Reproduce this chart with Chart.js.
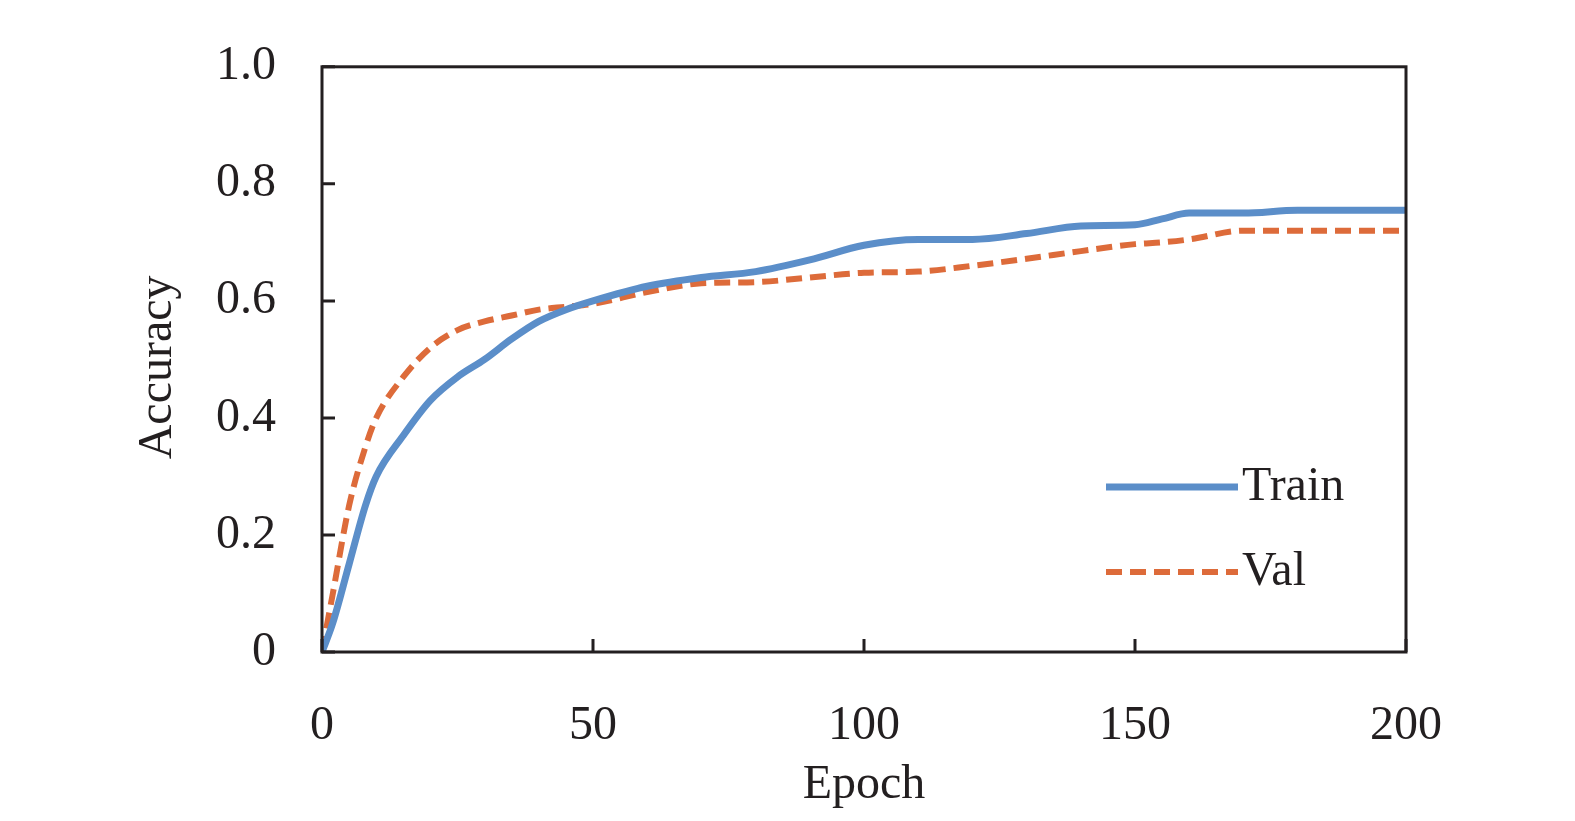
<!DOCTYPE html>
<html><head><meta charset="utf-8">
<script src="https://cdn.jsdelivr.net/npm/chart.js@4"></script>
<style>html,body{margin:0;padding:0;background:#fff}#w{width:1575px;height:821px}</style>
</head><body><div id="w"><canvas id="c"></canvas></div>
<script>
const epochs = [0,2,5,8,10,15,20,25,30,35,40,45,50,60,70,80,90,100,110,120,130,140,150,155,160,170,180,200];
const train  = [0,0.05,0.15,0.25,0.30,0.37,0.43,0.47,0.50,0.535,0.565,0.585,0.60,0.625,0.64,0.65,0.67,0.695,0.705,0.705,0.715,0.728,0.73,0.74,0.75,0.75,0.755,0.755];
const val    = [0,0.10,0.25,0.35,0.40,0.47,0.52,0.55,0.565,0.575,0.585,0.59,0.595,0.615,0.63,0.632,0.64,0.648,0.65,0.66,0.672,0.685,0.697,0.70,0.705,0.72,0.72,0.72];
const xTicks = [0,50,100,150,200];
const yTicks = [0,0.2,0.4,0.6,0.8,1.0];
const xTitle = 'Epoch', yTitle = 'Accuracy';
const FONT = "'Liberation Serif', 'Times New Roman', serif";
const pts = a => epochs.map((e,i)=>({x:e,y:a[i]}));

const frame = {
  id:'frame',
  afterDatasetsDraw(ch){
    const {ctx, chartArea:a, scales:{x,y}} = ch;
    ctx.save();
    ctx.strokeStyle='#231f20'; ctx.lineWidth=3;
    ctx.strokeRect(a.left,a.top,a.right-a.left,a.bottom-a.top);
    ctx.beginPath();
    xTicks.forEach(v=>{const p=x.getPixelForValue(v); ctx.moveTo(p,a.bottom); ctx.lineTo(p,a.bottom-13);});
    yTicks.forEach(v=>{const p=y.getPixelForValue(v); ctx.moveTo(a.left,p); ctx.lineTo(a.left+13,p);});
    ctx.stroke();
    ctx.fillStyle='#231f20'; ctx.textAlign='center'; ctx.textBaseline='middle';
    ctx.font = "48px "+FONT;
    ctx.fillText(xTitle,(a.left+a.right)/2,785);
    ctx.save(); ctx.translate(158,(a.top+a.bottom)/2+8); ctx.rotate(-Math.PI/2); ctx.fillText(yTitle,0,0); ctx.restore();
    // legend
    ctx.textAlign='left'; ctx.font = "48px "+FONT;
    const rows=[487,572];
    ch.data.datasets.forEach((d,i)=>{
      ctx.beginPath(); ctx.strokeStyle=d.borderColor; ctx.lineWidth=d.borderWidth;
      ctx.setLineDash(d.borderDash||[]);
      ctx.moveTo(1106,rows[i]); ctx.lineTo(1238,rows[i]); ctx.stroke();
      ctx.setLineDash([]);
      ctx.fillText(d.label,1242,rows[i]);
    });
    ctx.restore();
  }
};

new Chart(document.getElementById('c'),{
  type:'line',
  data:{datasets:[
    {label:'Train',data:pts(train),borderColor:'#5b8ec9',borderWidth:7,pointRadius:0,tension:0.4,cubicInterpolationMode:'monotone'},
    {label:'Val',data:pts(val),borderColor:'#dd6b3a',borderWidth:6,borderDash:[16,8],pointRadius:0,tension:0.4,cubicInterpolationMode:'monotone'}
  ]},
  options:{
    responsive:true,maintainAspectRatio:false,animation:false,
    layout:{padding:{top:-8,right:169,left:0,bottom:0}},
    plugins:{legend:{display:false},tooltip:{enabled:false}},
    scales:{
      x:{type:'linear',min:0,max:200,
        afterBuildTicks:s=>{s.ticks=xTicks.map(v=>({value:v}));},
        afterFit:s=>{s.height=169;},
        grid:{display:false},border:{display:false},
        ticks:{color:'#231f20',font:{family:FONT,size:48},padding:38,maxRotation:0}},
      y:{min:0,max:1,
        afterBuildTicks:s=>{s.ticks=yTicks.map(v=>({value:v}));},
        afterFit:s=>{s.width=322;},
        grid:{display:false},border:{display:false},
        ticks:{color:'#231f20',font:{family:FONT,size:48},padding:38,callback:v=>v===0?'0':v.toFixed(1)}}
    }
  },
  plugins:[frame]
});
</script></body></html>
